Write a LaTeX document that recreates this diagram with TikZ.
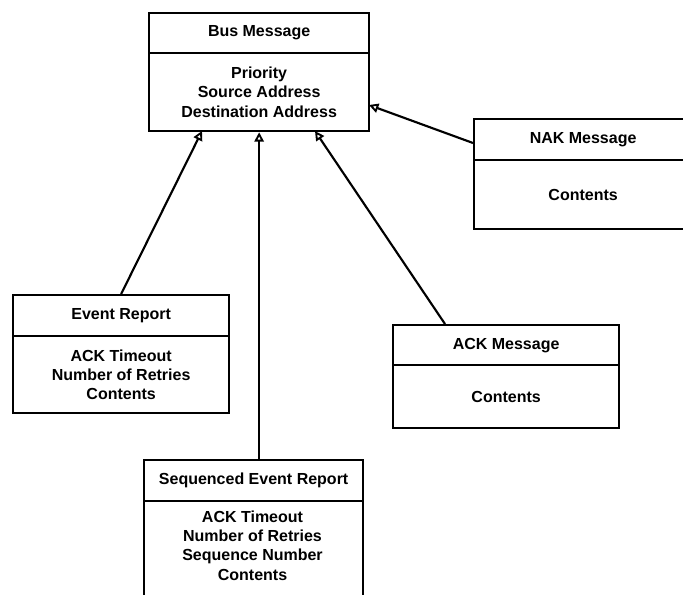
\documentclass[tikz,border=0pt]{standalone}
\usepackage{fontspec}
\setmainfont{Liberation Sans}
\usetikzlibrary{arrows.meta}
\begin{document}
\begin{tikzpicture}[x=0.75pt,y=-0.75pt,
  box/.style={draw, line width=1.7pt, inner sep=0pt, anchor=north west, align=center,
              font=\bfseries\fontsize{12}{14.5}\selectfont},
  txt/.style={inner sep=0pt, align=center, font=\bfseries\fontsize{12}{14.5}\selectfont},
  inh/.style={line width=1.6pt, -{Triangle[open, length=7pt, width=7pt, line width=1.4pt]}},
]
\useasboundingbox (0,0) rectangle (683,594);
% Bus Message
\node[box, minimum width=220*0.75pt, minimum height=40*0.75pt] (bush) at (148,12) {Bus Message};
\node[box, minimum width=220*0.75pt, minimum height=78*0.75pt] (busb) at (148,52) {Priority\\Source Address\\Destination Address};
% NAK Message
\node[box, minimum width=218*0.75pt, minimum height=41*0.75pt] (nakh) at (473,118) {NAK Message};
\node[box, minimum width=218*0.75pt, minimum height=69*0.75pt] (nakb) at (473,159) {Contents};
% Event Report
\node[box, minimum width=216*0.75pt, minimum height=41*0.75pt] (erh) at (12,294) {Event Report};
\node[box, minimum width=216*0.75pt, minimum height=77*0.75pt] (erb) at (12,335) {ACK Timeout\\Number of Retries\\Contents};
% ACK Message
\node[box, minimum width=226*0.75pt, minimum height=40*0.75pt] (ackh) at (392,324) {ACK Message};
\node[box, minimum width=226*0.75pt, minimum height=63*0.75pt] (ackb) at (392,364) {Contents};
% Sequenced Event Report
\node[box, minimum width=219*0.75pt, minimum height=41*0.75pt] (seqh) at (143,459) {Sequenced Event Report};
\node[box, minimum width=219*0.75pt, minimum height=110*0.75pt] (seqb) at (143,500) {};
\node[txt] (seqt) at (252.5,545.5) {ACK Timeout\\Number of Retries\\Sequence Number\\Contents};
% connectors
\coordinate (tER) at (202,131);
\coordinate (fACK) at (445,324);
\coordinate (tACK) at (315,131);
\coordinate (fNAK) at (473,143);
\coordinate (tNAK) at (369,105);
\draw[inh] (erh.north) -- (tER);
\draw[inh] (seqh.north -| busb.south) -- (busb.south);
\draw[inh] (fACK) -- (tACK);
\draw[inh] (fNAK) -- (tNAK);
\end{tikzpicture}
\end{document}
